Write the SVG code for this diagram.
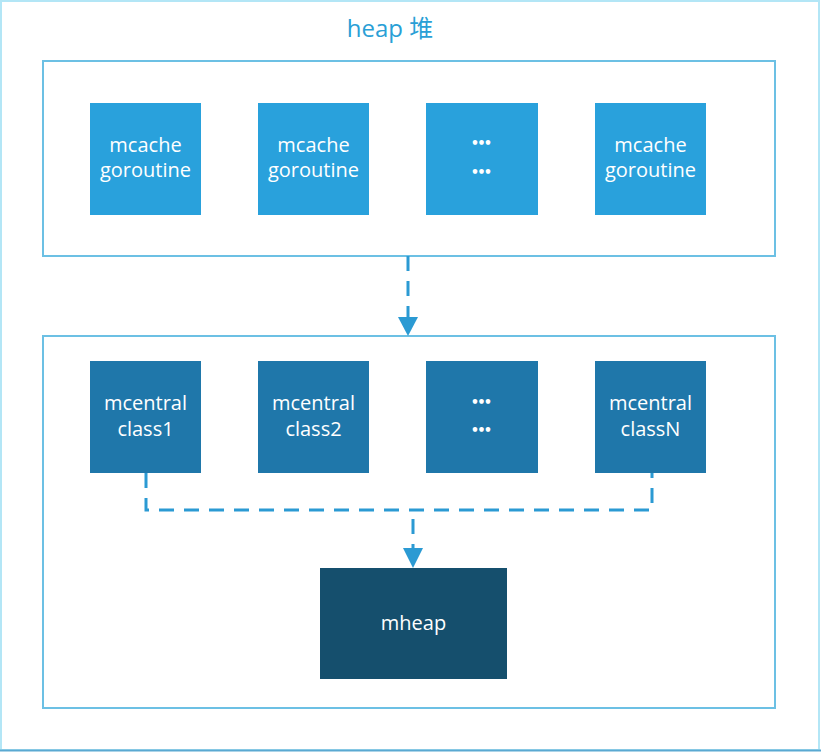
<svg xmlns="http://www.w3.org/2000/svg" width="821" height="752" viewBox="0 0 821 752">
<style>
.frame{fill:none;stroke:#6cc0e4;stroke-width:2}
.n1{fill:#29a1dc}
.n2{fill:#1f77aa}
.n3{fill:#154f6d}
.t{font-family:"Open Sans","Noto Sans",sans-serif;font-size:20px;fill:#ffffff;text-anchor:middle}
.dots{font-family:"Open Sans","Noto Sans",sans-serif;font-size:19px;fill:#ffffff;stroke:#ffffff;stroke-width:1.3px;text-anchor:middle;font-weight:bold;letter-spacing:1px}
.c{fill:none;stroke:#2b9ad3;stroke-width:3;stroke-dasharray:15 10}
.ah{fill:#2b9ad3}
</style>
<rect x="0" y="0" width="821" height="752" fill="#ffffff"/>
<rect x="1" y="1" width="818" height="749" fill="none" stroke="#b3e6f6" stroke-width="2"/>
<line x1="0" y1="750.5" x2="821" y2="750.5" stroke="#5aa9d2" stroke-width="2"/>
<text x="390" y="37" font-family="'Open Sans','Noto Sans','Noto Sans CJK SC',sans-serif" font-size="24" fill="#2a9fd6" text-anchor="middle">heap 堆</text>
<g id="heap-top"><rect class="frame" x="43" y="61" width="732" height="195"/></g>
<g id="heap-bottom"><rect class="frame" x="43" y="336" width="732" height="372"/></g>
<g id="mcache1"><rect class="n1" x="90" y="103" width="111" height="112"/><text class="t" x="145.5" y="152">mcache</text><text class="t" x="145.5" y="177">goroutine</text></g>
<g id="mcache2"><rect class="n1" x="258" y="103" width="111" height="112"/><text class="t" x="313.5" y="152">mcache</text><text class="t" x="313.5" y="177">goroutine</text></g>
<g id="mcache-etc"><rect class="n1" x="426" y="103" width="112" height="112"/><text class="dots" x="482" y="149">···</text><text class="dots" x="482" y="178">···</text></g>
<g id="mcache4"><rect class="n1" x="595" y="103" width="111" height="112"/><text class="t" x="650.5" y="152">mcache</text><text class="t" x="650.5" y="177">goroutine</text></g>
<g id="mcentral1"><rect class="n2" x="90" y="361" width="111" height="112"/><text class="t" x="145.5" y="410">mcentral</text><text class="t" x="145.5" y="436">class1</text></g>
<g id="mcentral2"><rect class="n2" x="258" y="361" width="111" height="112"/><text class="t" x="313.5" y="410">mcentral</text><text class="t" x="313.5" y="436">class2</text></g>
<g id="mcentral-etc"><rect class="n2" x="426" y="361" width="112" height="112"/><text class="dots" x="482" y="408">···</text><text class="dots" x="482" y="436">···</text></g>
<g id="mcentralN"><rect class="n2" x="595" y="361" width="111" height="112"/><text class="t" x="650.5" y="410">mcentral</text><text class="t" x="650.5" y="436">classN</text></g>
<g id="mheap"><rect class="n3" x="320" y="568" width="187" height="111"/><text class="t" x="413.5" y="630">mheap</text></g>
<g id="connectors">
<path class="c" d="M408 256 V318"/>
<polygon class="ah" points="398,317 418,317 408,336"/>
<path class="c" d="M146 473 V510 H652 V473"/>
<path class="c" d="M413 519 V549"/>
<polygon class="ah" points="403,548 423,548 413,568"/>
</g>
</svg>
